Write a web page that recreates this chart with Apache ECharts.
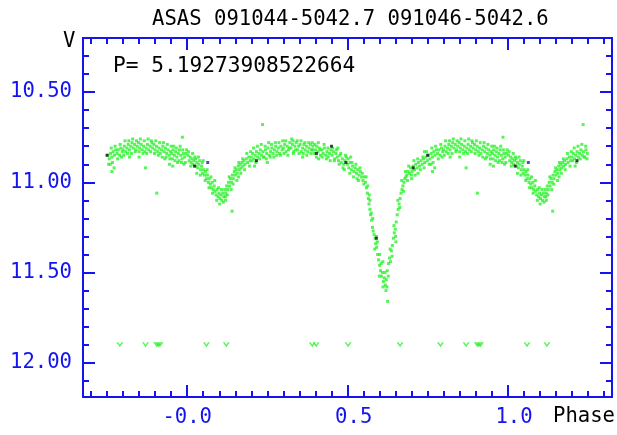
<!DOCTYPE html>
<html>
<head>
<meta charset="utf-8">
<script src="https://cdn.jsdelivr.net/npm/echarts@6/dist/echarts.min.js"></script>
<style>
    html, body {margin: 0; padding: 0; background: #fff;}
    #lightCurve {width: 617px; height: 435px;}
</style>
</head>
<body>
<div id="lightCurve"></div>
<script>
//  phase, V  (one period, folded later to -0.25 .. 1.25)
const greenPoints = [
    [0.002, 10.85], [0.006, 10.88], [0.009, 10.86], [0.012, 10.89], [0.015, 10.87], [0.018, 10.90], [0.021, 10.88],
    [0.024, 10.86], [0.027, 10.91], [0.030, 10.89], [0.033, 10.92], [0.036, 10.90], [0.039, 10.88], [0.042, 10.93],
    [0.045, 10.91], [0.048, 10.95], [0.051, 10.93], [0.054, 10.96], [0.057, 10.94], [0.060, 10.98], [0.063, 10.96],
    [0.066, 11.00], [0.069, 10.98], [0.072, 11.01], [0.075, 11.03], [0.078, 11.00], [0.081, 11.04], [0.084, 11.02],
    [0.087, 11.05], [0.090, 11.07], [0.093, 11.04], [0.096, 11.08], [0.099, 11.06], [0.030, 10.95], [0.050, 10.88],
    [0.004, 10.83], [0.011, 10.91], [0.017, 10.84], [0.026, 10.87], [0.035, 10.86], [0.041, 10.96], [0.047, 10.89],
    [0.056, 10.99], [0.062, 10.93], [0.068, 11.03], [0.074, 10.97], [0.079, 11.06], [0.086, 10.99], [0.092, 11.10],
    [0.098, 11.03],
    [0.102, 11.09], [0.105, 11.07], [0.108, 11.10], [0.111, 11.06], [0.114, 11.08], [0.117, 11.04], [0.120, 11.06],
    [0.123, 11.02], [0.126, 11.04], [0.129, 11.00], [0.132, 11.02], [0.135, 10.98], [0.138, 11.00], [0.141, 10.96],
    [0.144, 10.98], [0.147, 10.94], [0.150, 10.96], [0.153, 10.93], [0.156, 10.95], [0.159, 10.91], [0.162, 10.93],
    [0.165, 10.90], [0.168, 10.92], [0.171, 10.89], [0.174, 10.91], [0.177, 10.88], [0.180, 10.90], [0.184, 10.87],
    [0.188, 10.89], [0.192, 10.86], [0.196, 10.88], [0.140, 11.16], [0.160, 10.97], [0.120, 11.10],
    [0.101, 11.12], [0.107, 11.04], [0.113, 11.11], [0.119, 11.08], [0.125, 11.07], [0.131, 10.97], [0.137, 11.04],
    [0.143, 11.01], [0.149, 10.92], [0.155, 10.99], [0.161, 10.89], [0.167, 10.95], [0.173, 10.87], [0.179, 10.93],
    [0.186, 10.84], [0.194, 10.91], [0.198, 10.83],
    [0.200, 10.86], [0.204, 10.84], [0.208, 10.87], [0.212, 10.85], [0.216, 10.83], [0.220, 10.86], [0.224, 10.84],
    [0.228, 10.82], [0.232, 10.85], [0.236, 10.83], [0.240, 10.86], [0.244, 10.82], [0.248, 10.84], [0.252, 10.81],
    [0.256, 10.85], [0.260, 10.83], [0.264, 10.81], [0.268, 10.84], [0.272, 10.82], [0.276, 10.80], [0.280, 10.83],
    [0.284, 10.81], [0.288, 10.84], [0.292, 10.80], [0.296, 10.82], [0.235, 10.68], [0.210, 10.91], [0.250, 10.89],
    [0.202, 10.88], [0.207, 10.81], [0.214, 10.89], [0.219, 10.80], [0.226, 10.87], [0.231, 10.79], [0.238, 10.86],
    [0.243, 10.80], [0.247, 10.87], [0.254, 10.78], [0.259, 10.86], [0.263, 10.79], [0.270, 10.86], [0.275, 10.78],
    [0.279, 10.85], [0.286, 10.78], [0.291, 10.85], [0.298, 10.77],
    [0.300, 10.81], [0.304, 10.79], [0.308, 10.83], [0.312, 10.80], [0.316, 10.82], [0.320, 10.78], [0.324, 10.81],
    [0.328, 10.79], [0.332, 10.83], [0.336, 10.80], [0.340, 10.78], [0.344, 10.82], [0.348, 10.80], [0.352, 10.79],
    [0.356, 10.83], [0.360, 10.81], [0.364, 10.79], [0.368, 10.82], [0.372, 10.80], [0.376, 10.83], [0.380, 10.81],
    [0.384, 10.79], [0.388, 10.82], [0.392, 10.80], [0.396, 10.84], [0.400, 10.82], [0.404, 10.80], [0.408, 10.83],
    [0.412, 10.81], [0.416, 10.85], [0.420, 10.82], [0.424, 10.84], [0.428, 10.81], [0.432, 10.85], [0.436, 10.83],
    [0.440, 10.86], [0.444, 10.84], [0.448, 10.82], [0.360, 10.86], [0.410, 10.87], [0.330, 10.77], [0.390, 10.78],
    [0.302, 10.84], [0.307, 10.77], [0.314, 10.85], [0.319, 10.81], [0.326, 10.76], [0.331, 10.84], [0.338, 10.82],
    [0.343, 10.77], [0.349, 10.84], [0.355, 10.77], [0.362, 10.84], [0.367, 10.78], [0.373, 10.85], [0.379, 10.78],
    [0.386, 10.84], [0.391, 10.82], [0.398, 10.79], [0.403, 10.86], [0.409, 10.78], [0.415, 10.82], [0.421, 10.86],
    [0.427, 10.79], [0.434, 10.87], [0.439, 10.81], [0.446, 10.88],
    [0.452, 10.85], [0.456, 10.83], [0.460, 10.87], [0.464, 10.84], [0.468, 10.86], [0.472, 10.88], [0.476, 10.85],
    [0.480, 10.89], [0.484, 10.87], [0.488, 10.90], [0.492, 10.88], [0.496, 10.86], [0.500, 10.90], [0.504, 10.92],
    [0.508, 10.89], [0.512, 10.93], [0.516, 10.91], [0.520, 10.94], [0.524, 10.92], [0.528, 10.95], [0.532, 10.93],
    [0.536, 10.96], [0.540, 10.94], [0.544, 10.97], [0.548, 10.99], [0.552, 10.97], [0.470, 10.81], [0.490, 10.93],
    [0.510, 10.86], [0.530, 10.98],
    [0.454, 10.81], [0.459, 10.88], [0.466, 10.82], [0.474, 10.90], [0.479, 10.84], [0.486, 10.92], [0.494, 10.85],
    [0.502, 10.87], [0.507, 10.95], [0.514, 10.89], [0.519, 10.97], [0.526, 10.90], [0.534, 10.99], [0.539, 10.92],
    [0.546, 10.95], [0.551, 11.01],
    [0.556, 11.00], [0.559, 11.03], [0.562, 11.06], [0.565, 11.09], [0.567, 11.12], [0.570, 11.15], [0.572, 11.18],
    [0.575, 11.21], [0.578, 11.25], [0.580, 11.27], [0.583, 11.29], [0.586, 11.31], [0.588, 11.34], [0.591, 11.36],
    [0.594, 11.40], [0.597, 11.43], [0.600, 11.46], [0.603, 11.49], [0.606, 11.52], [0.609, 11.50], [0.612, 11.55],
    [0.615, 11.53], [0.618, 11.57], [0.621, 11.54], [0.625, 11.66], [0.624, 11.49], [0.628, 11.45], [0.631, 11.42],
    [0.634, 11.44], [0.637, 11.38], [0.640, 11.35], [0.643, 11.31], [0.646, 11.28], [0.649, 11.26], [0.652, 11.22],
    [0.655, 11.18], [0.658, 11.15], [0.661, 11.12], [0.664, 11.09], [0.667, 11.06], [0.670, 11.04], [0.673, 11.02],
    [0.676, 11.00], [0.679, 10.98], [0.682, 10.97], [0.600, 11.40], [0.610, 11.44], [0.620, 11.60], [0.590, 11.30],
    [0.570, 11.10], [0.650, 11.30],
    [0.558, 10.97], [0.563, 11.02], [0.568, 11.07], [0.574, 11.17], [0.579, 11.20], [0.585, 11.37], [0.593, 11.33],
    [0.599, 11.52], [0.605, 11.45], [0.611, 11.58], [0.617, 11.50], [0.623, 11.58], [0.627, 11.52], [0.633, 11.37],
    [0.639, 11.41], [0.645, 11.24], [0.651, 11.33], [0.657, 11.10], [0.663, 11.14], [0.669, 10.99], [0.675, 11.05],
    [0.681, 10.94],
    [0.685, 10.96], [0.689, 10.94], [0.693, 10.95], [0.697, 10.92], [0.701, 10.94], [0.705, 10.91], [0.709, 10.93],
    [0.713, 10.90], [0.717, 10.92], [0.721, 10.89], [0.725, 10.91], [0.729, 10.88], [0.733, 10.90], [0.737, 10.87],
    [0.741, 10.89], [0.745, 10.86], [0.749, 10.88], [0.753, 10.85], [0.757, 10.87], [0.761, 10.84], [0.765, 10.86],
    [0.769, 10.83], [0.773, 10.85], [0.777, 10.82], [0.781, 10.84], [0.785, 10.82], [0.789, 10.85], [0.793, 10.81],
    [0.797, 10.83], [0.700, 10.98], [0.720, 10.95], [0.760, 10.90], [0.740, 10.83],
    [0.687, 10.99], [0.691, 10.91], [0.699, 10.96], [0.707, 10.88], [0.711, 10.96], [0.719, 10.87], [0.727, 10.93],
    [0.735, 10.86], [0.739, 10.92], [0.747, 10.83], [0.755, 10.90], [0.763, 10.81], [0.767, 10.89], [0.775, 10.80],
    [0.783, 10.87], [0.791, 10.79], [0.795, 10.86], [0.765, 10.94], [0.772, 10.92],
    [0.800, 10.82], [0.804, 10.80], [0.808, 10.83], [0.812, 10.81], [0.816, 10.79], [0.820, 10.82], [0.824, 10.80],
    [0.828, 10.78], [0.832, 10.81], [0.836, 10.79], [0.840, 10.82], [0.844, 10.80], [0.848, 10.78], [0.852, 10.81],
    [0.856, 10.79], [0.860, 10.82], [0.864, 10.80], [0.868, 10.83], [0.872, 10.81], [0.876, 10.79], [0.880, 10.82],
    [0.884, 10.80], [0.888, 10.77], [0.892, 10.81], [0.896, 10.79], [0.900, 10.82], [0.904, 10.80], [0.908, 10.83],
    [0.912, 10.81], [0.916, 10.84], [0.920, 10.82], [0.924, 10.80], [0.928, 10.83], [0.932, 10.81], [0.936, 10.84],
    [0.940, 10.82], [0.944, 10.85], [0.948, 10.83], [0.870, 10.92], [0.905, 11.06], [0.820, 10.86], [0.850, 10.86],
    [0.930, 10.87],
    [0.802, 10.85], [0.806, 10.77], [0.814, 10.84], [0.818, 10.77], [0.826, 10.84], [0.830, 10.76], [0.838, 10.83],
    [0.842, 10.77], [0.850, 10.83], [0.854, 10.76], [0.862, 10.84], [0.866, 10.77], [0.874, 10.84], [0.878, 10.76],
    [0.886, 10.83], [0.890, 10.78], [0.898, 10.84], [0.902, 10.77], [0.910, 10.85], [0.914, 10.78], [0.922, 10.86],
    [0.926, 10.78], [0.934, 10.86], [0.938, 10.79], [0.946, 10.87],
    [0.952, 10.84], [0.956, 10.82], [0.960, 10.85], [0.964, 10.83], [0.968, 10.86], [0.972, 10.84], [0.976, 10.82],
    [0.980, 10.85], [0.984, 10.87], [0.988, 10.84], [0.992, 10.86], [0.996, 10.84], [0.985, 10.75], [0.970, 10.89],
    [0.990, 10.90],
    [0.950, 10.80], [0.954, 10.87], [0.958, 10.80], [0.962, 10.88], [0.966, 10.81], [0.974, 10.88], [0.978, 10.80],
    [0.982, 10.89], [0.986, 10.82], [0.994, 10.89], [0.998, 10.82], [0.955, 10.91], [0.945, 10.90]
];
const blackPoints = [[0.750, 10.85], [0.023, 10.91], [0.450, 10.80], [0.495, 10.89], [0.705, 10.92], [0.590, 11.31], [0.216, 10.88], [0.403, 10.84]];
const bluePoints = [[0.064, 10.89]];
//  upper limits, drawn as small "v"
const limitPoints = [
    [0.060, 11.90], [0.122, 11.90], [0.390, 11.90], [0.402, 11.90], [0.502, 11.90], [0.664, 11.90],
    [0.790, 11.90], [0.870, 11.90], [0.905, 11.90], [0.910, 11.90], [0.915, 11.90]
];

const period = '5.19273908522664';
const titleText = 'ASAS 091044-5042.7 091046-5042.6';
const xTickValues = [0, 0.5, 1];
const xTickLabels = ['-0.0', '0.5', '1.0'];
const yTickValues = [10.5, 11, 11.5, 12];
const yTickLabels = ['10.50', '11.00', '11.50', '12.00'];

const blue = '#1414f0';
const mono = 'DejaVu Sans Mono';

//  phase folding: show -0.25 .. 1.25
function fold(points) {
    const out = [];
    points.forEach(function (p) {
        out.push(p);
        if (p[0] < 0.25) out.push([p[0] + 1, p[1]]);
        if (p[0] >= 0.75) out.push([p[0] - 1, p[1]]);
    });
    return out;
}

//  minor ticks
const xMinor = [];
for (let k = -6; k <= 26; k++) xMinor.push(Math.round(k * 5) / 100);
const yMinor = [];
for (let k = 103; k <= 121; k++) yMinor.push(k / 10);

function xAxisFn(position, values, len, labels) {
    return {
        type: 'value',
        position: position,
        min: -0.325,
        max: 1.325,
        axisLine: {show: true, onZero: false, lineStyle: {color: blue, width: 2}},
        axisTick: {show: true, inside: true, length: len, customValues: values, lineStyle: {color: blue, width: 2}},
        axisLabel: labels ? {
            show: true,
            customValues: xTickValues,
            color: blue,
            fontFamily: mono,
            fontSize: 20.6,
            margin: 10,
            formatter: function (v) {
                const s = xTickLabels[xTickValues.indexOf(v)];
                return s.charAt(0) === '-' ? s : ' ' + s;
            }
        } : {show: false},
        splitLine: {show: false}
    };
}

function yAxisFn(position, values, len, labels) {
    return {
        type: 'value',
        position: position,
        inverse: true,
        min: 10.2,
        max: 12.19,
        axisLine: {show: true, onZero: false, lineStyle: {color: blue, width: 2}},
        axisTick: {show: true, inside: true, length: len, customValues: values, lineStyle: {color: blue, width: 2}},
        axisLabel: labels ? {
            show: true,
            customValues: yTickValues,
            color: blue,
            fontFamily: mono,
            fontSize: 20.6,
            margin: 11,
            formatter: function (v) {
                return yTickLabels[yTickValues.indexOf(v)];
            }
        } : {show: false},
        splitLine: {show: false}
    };
}

const myChart = echarts.init(document.getElementById('lightCurve'));
myChart.setOption({
    animation: false,
    grid: {left: 83, right: 5, top: 38, bottom: 38},
    xAxis: [
        xAxisFn('bottom', xTickValues, 12, true),
        xAxisFn('bottom', xMinor, 6, false),
        xAxisFn('top', xTickValues, 12, false),
        xAxisFn('top', xMinor, 6, false)
    ],
    yAxis: [
        yAxisFn('left', yTickValues, 12, true),
        yAxisFn('left', yMinor, 6, false),
        yAxisFn('right', yTickValues, 12, false),
        yAxisFn('right', yMinor, 6, false)
    ],
    graphic: [
        {type: 'text', left: 152, top: 9, style: {text: titleText, fill: '#000', font: '20.6px ' + mono}},
        {type: 'text', left: 63, top: 31, style: {text: 'V', fill: '#000', font: '20.6px ' + mono}},
        {type: 'text', left: 113, top: 56, style: {text: 'P= ' + period, fill: '#000', font: '21.2px ' + mono}},
        {type: 'text', left: 553, top: 406, style: {text: 'Phase', fill: '#000', font: '20.6px ' + mono}}
    ],
    series: [
        {
            type: 'scatter',
            symbol: 'rect',
            symbolSize: 3,
            itemStyle: {color: '#2ef02e'},
            data: fold(greenPoints)
        },
        {
            type: 'scatter',
            symbol: 'path://M0,0L4,6L8,0L6,0L4,3L2,0Z',
            symbolSize: [7, 5],
            itemStyle: {color: '#2ef02e'},
            data: fold(limitPoints)
        },
        {
            type: 'scatter',
            symbol: 'rect',
            symbolSize: 3,
            itemStyle: {color: '#111'},
            data: fold(blackPoints)
        },
        {
            type: 'scatter',
            symbol: 'rect',
            symbolSize: 3,
            itemStyle: {color: '#2020c0'},
            data: fold(bluePoints)
        }
    ]
});
</script>
</body>
</html>
